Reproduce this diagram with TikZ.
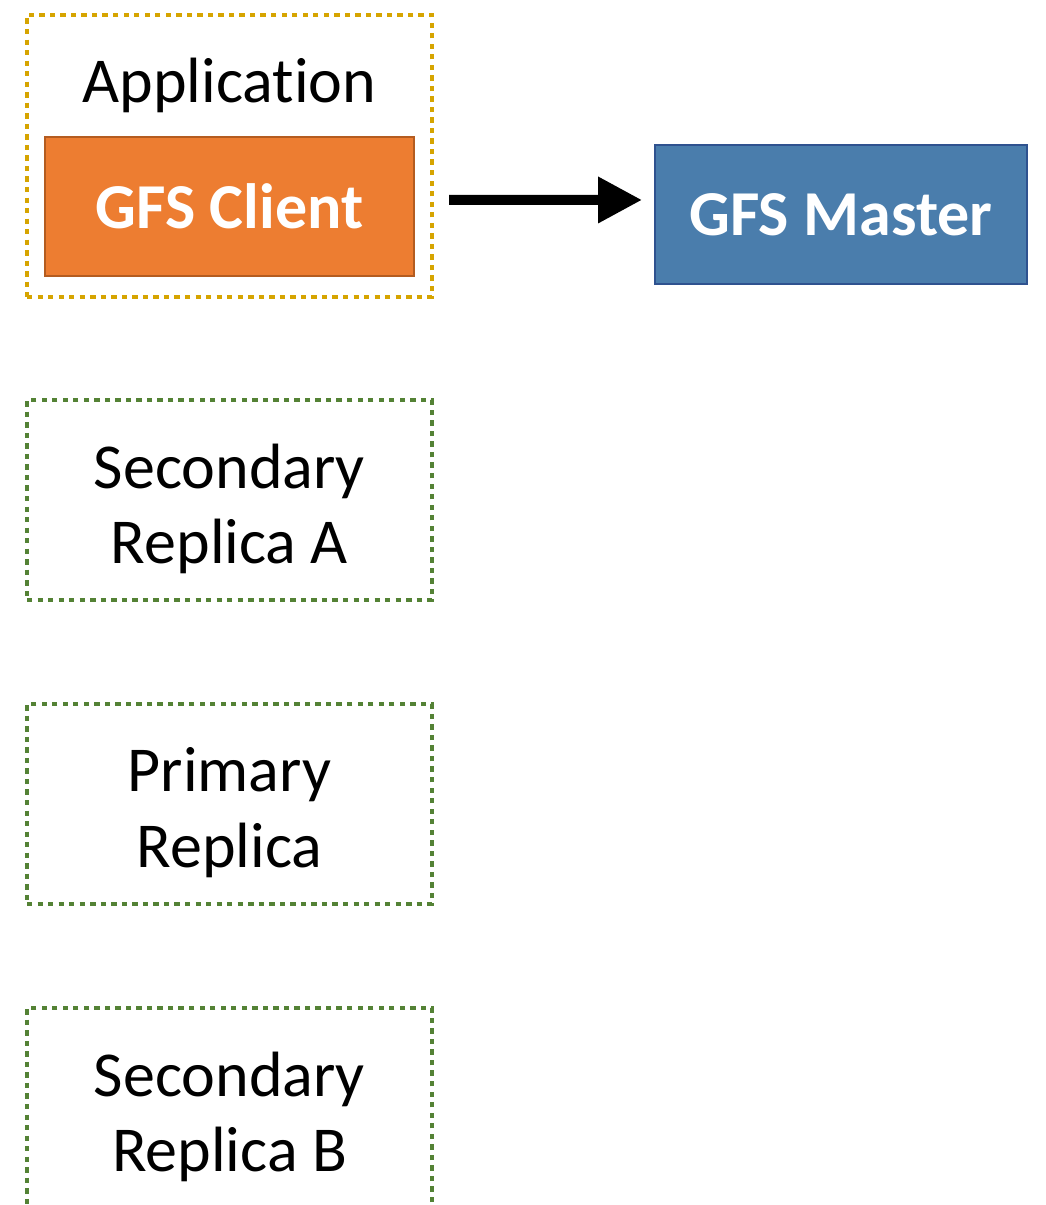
\documentclass[tikz,border=0pt]{standalone}
\usepackage{fontspec}
\setmainfont{Carlito}[Ligatures=NoCommon]
\usetikzlibrary{arrows.meta}
\definecolor{appgold}{RGB}{214,164,0}
\definecolor{repgreen}{RGB}{84,130,53}
\definecolor{clientfill}{RGB}{237,125,49}
\definecolor{clientline}{RGB}{180,92,32}
\definecolor{masterfill}{RGB}{74,125,172}
\definecolor{masterline}{RGB}{47,82,143}
\begin{document}
\begin{tikzpicture}[x=0.75pt,y=-0.75pt,
  txt/.style={font=\fontsize{48pt}{58.5pt}\selectfont, align=center},
  dotbox/.style={draw, line width=3pt, dash pattern=on 4pt off 3.9pt,
    minimum width=405*0.75pt, inner sep=0pt},
  repbox/.style={dotbox, draw=repgreen, minimum height=200*0.75pt},
  solidbox/.style={line width=1.5pt, minimum height=139*0.75pt, inner sep=0pt,
    text=white, font=\fontsize{48pt}{58pt}\selectfont\bfseries}
]
\useasboundingbox (0,0) rectangle (1045,1205);
\node[dotbox, draw=appgold, minimum height=282*0.75pt] (app) at (229.5,156) {};
\node[txt, anchor=base] (apptxt) at (229.5,103) {Applicat\kern0pt ion};
\node[solidbox, fill=clientfill, draw=clientline, minimum width=369*0.75pt] (client) at (229.5,206.5) {GFS Client};
\node[solidbox, fill=masterfill, draw=masterline, minimum width=372*0.75pt] (master) at (841,214.5) {GFS Master};
\node[repbox] (secA) at (229.5,500) {};
\node[repbox] (prim) at (229.5,804) {};
\node[repbox] (secB) at (229.5,1108) {};
\node[txt] (secAtxt) at ([yshift=-6.5pt]secA.center) {Secondary\\[-2pt]Replica A};
\node[txt] (primtxt) at ([yshift=-6.5pt]prim.center) {Primary\\[-2pt]Replica};
\node[txt] (secBtxt) at ([yshift=-6.5pt]secB.center) {Secondary\\[-2pt]Replica B};
\draw[line width=7.5pt, -{Triangle[length=33pt, width=33pt]}]
  ([xshift=11.25pt,yshift=-33pt]app.east) -- ([xshift=-9pt,yshift=10.9pt]master.west);
\end{tikzpicture}
\end{document}
